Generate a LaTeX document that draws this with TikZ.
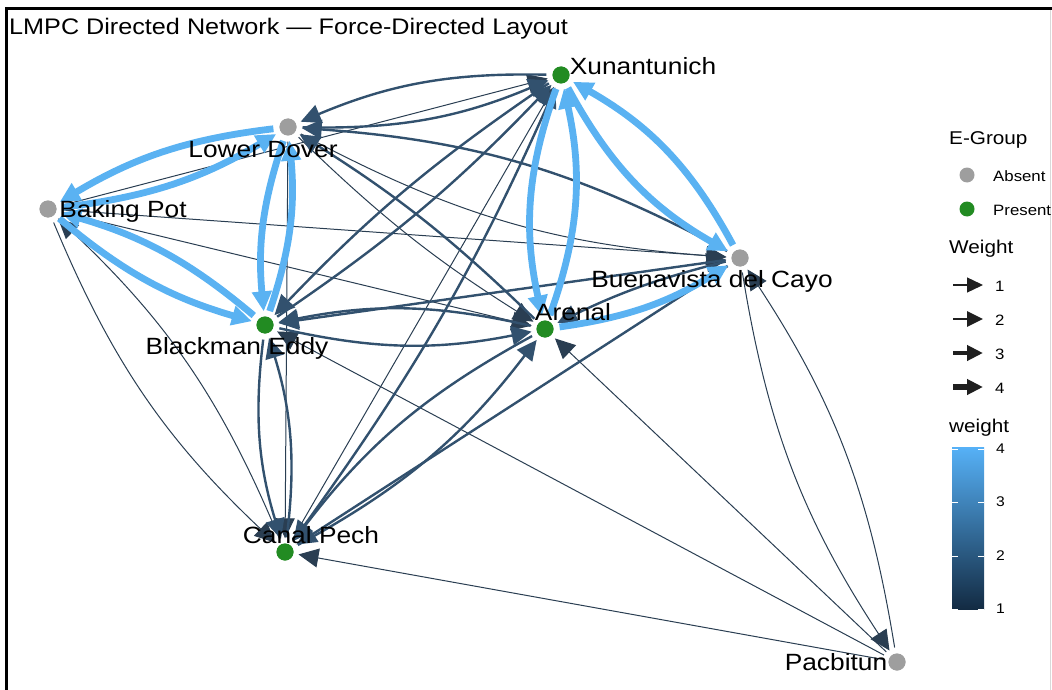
\documentclass[tikz,border=0pt]{standalone}
\usepackage{fontspec}
\setmainfont[FakeStretch=1.12]{Liberation Sans}
\usetikzlibrary{arrows.meta}

% edge colours: continuous scale from weight 1 (dark) to weight 4 (light)
\definecolor{wone}{HTML}{2A3E52}
\definecolor{wtwo}{HTML}{32516E}
\definecolor{wthree}{HTML}{3D7CAE}
\definecolor{wfour}{HTML}{5AB2F2}
\definecolor{barlow}{HTML}{132B43}
\definecolor{barhigh}{HTML}{56B1F7}
\definecolor{absentgray}{HTML}{9E9E9E}
\definecolor{presentgreen}{HTML}{228B22}

\tikzset{
  site/.style={circle, inner sep=0pt, minimum size=17pt},
  absent/.style={site, fill=absentgray},
  present/.style={site, fill=presentgreen},
  sitelabel/.style={font=\fontsize{23.5}{26}\selectfont, inner sep=0pt, text=black},
  legtitle/.style={font=\fontsize{18.5}{21}\selectfont, inner sep=0pt, anchor=west},
  legtext/.style={font=\fontsize{15}{17}\selectfont, inner sep=0pt, anchor=west},
  link/.style={-{Triangle[length=20pt,width=19pt]}, shorten >=5pt, shorten <=6pt},
  wa/.style={link, draw=wone, line width=1pt},
  wb/.style={link, draw=wtwo, line width=2.4pt},
  wc/.style={link, draw=wthree, line width=4.4pt},
  wd/.style={link, draw=wfour, line width=6.8pt},
  pair/.style={bend right=12},
  widepair/.style={bend right=16},
  flatpair/.style={bend right=6},
  legarrow/.style={-{Triangle[length=16pt,width=15pt]}, draw=black!88},
}

\begin{document}
\begin{tikzpicture}[x=1pt, y=-1pt]
\path[use as bounding box] (0,0) rectangle (1052,690);

% frame
\draw[line width=3pt] (6,690) -- (6,8.5) -- (1052,8.5);
\draw[black!15, line width=0.8pt] (1050.5,10) -- (1050.5,690);

% title
\node[anchor=west, inner sep=0pt, font=\fontsize{22.5}{25}\selectfont] (title) at (9,29)
  {LMPC Directed Network — Force-Directed Layout};

% sites
\node[present] (xu) at (561,75) {};
\node[absent]  (ld) at (288,127) {};
\node[absent]  (bp) at (48,209) {};
\node[absent]  (bv) at (740,258) {};
\node[present] (ar) at (545,329) {};
\node[present] (be) at (265,325) {};
\node[present] (cp) at (285,552) {};
\node[absent]  (pb) at (897,662) {};

% links, weight 1
\draw[wa] (bp) to (bv);
\draw[wa] (bp) to (ar);
\draw[wa] (bp) to (xu);
\draw[wa] (ld) to (cp);
\draw[wa] (be) to (bv);
\draw[wa] (cp) to (xu);
\draw[wa] (pb) to (cp);
\draw[wa] (pb) to (be);
\draw[wa] (pb) to (ar);
\draw[wa, pair] (bp) to (cp);
\draw[wa, pair] (cp) to (bp);
\draw[wa, pair] (bv) to (pb);
\draw[wa, pair] (pb) to (bv);
\draw[wa, pair] (ld) to (bv);
\draw[wa, flatpair] (ld) to (ar);

% links, weight 2
\draw[wb] (bv) to (be);
\draw[wb] (bv) to (cp);
\draw[wb, flatpair] (ar) to (ld);
\draw[wb, flatpair] (be) to (xu);
\draw[wb, flatpair] (xu) to (be);
\draw[wb, flatpair] (cp) to (xu);
\draw[wb, pair] (bv) to (ld);
\draw[wb, pair] (xu) to (ld);
\draw[wb, pair] (ld) to (xu);
\draw[wb, pair] (be) to (cp);
\draw[wb, pair] (cp) to (be);
\draw[wb, pair] (cp) to (ar);
\draw[wb, pair] (ar) to (cp);
\draw[wb, pair] (be) to (ar);
\draw[wb, pair] (ar) to (be);
\draw[wb, flatpair] (bv) to (ar);

% links, weight 4
\draw[wd, pair] (ld) to (bp);
\draw[wd, pair] (bp) to (ld);
\draw[wd, pair] (bp) to (be);
\draw[wd, pair] (be) to (bp);
\draw[wd, pair] (ld) to (be);
\draw[wd, pair] (be) to (ld);
\draw[wd, widepair] (ar) to (xu);
\draw[wd, widepair] (xu) to (ar);
\draw[wd, widepair] (bv) to (xu);
\draw[wd, widepair] (xu) to (bv);
\draw[wd, pair] (ar) to (bv);

% sites drawn again on top of the links
\foreach \s/\k in {xu/present, ld/absent, bp/absent, bv/absent, ar/present, be/present, cp/present, pb/absent}
  \node[\k] at (\s) {};

% site names
\node[sitelabel] (xulab) at (643,66)  {Xunantunich};
\node[sitelabel] (ldlab) at (263,150) {Lower Dover};
\node[sitelabel] (bplab) at (123,211) {Baking Pot};
\node[sitelabel] (bvlab) at (712,281) {Buenavista del Cayo};
\node[sitelabel] (arlab) at (573,312) {Arenal};
\node[sitelabel] (belab) at (237,348) {Blackman Eddy};
\node[sitelabel] (cplab) at (311,535) {Canal Pech};
\node[sitelabel] (pblab) at (836,662) {Pacbitun};

% legend: E-Group
\node[legtitle] (egtitle) at (949,140) {E-Group};
\node[site, fill=absentgray, minimum size=15pt] (legabs) at (967,175) {};
\node[legtext] (legabstext) at (993,176) {Absent};
\node[site, fill=presentgreen, minimum size=15pt] (legpre) at (967,209) {};
\node[legtext] (legpretext) at (993,210) {Present};

% legend: Weight (arrow widths)
\node[legtitle] (wtitle) at (949,249) {Weight};
\foreach \y/\w/\n in {285/1.3/1, 319/2.8/2, 353/4.6/3, 387/6.6/4} {
  \coordinate (la\n) at (953,\y);
  \coordinate (lb\n) at (983,\y);
  \draw[legarrow, line width=\w pt] (la\n) -- (lb\n);
  \node[legtext] (ln\n) at (995,\y+1) {\n};
}

% legend: weight (colour bar)
\node[legtitle] (ctitle) at (949,428) {weight};
\shade[top color=barhigh, bottom color=barlow] (952,447) rectangle (984,609);
\foreach \y/\n in {449/4, 502/3, 556/2, 609/1} {
  \draw[white, line width=1pt] (952,\y) -- (958,\y);
  \draw[white, line width=1pt] (978,\y) -- (984,\y);
  \node[legtext, font=\fontsize{14}{16}\selectfont] (ct\n) at (996,\y) {\n};
}
\end{tikzpicture}
\end{document}
